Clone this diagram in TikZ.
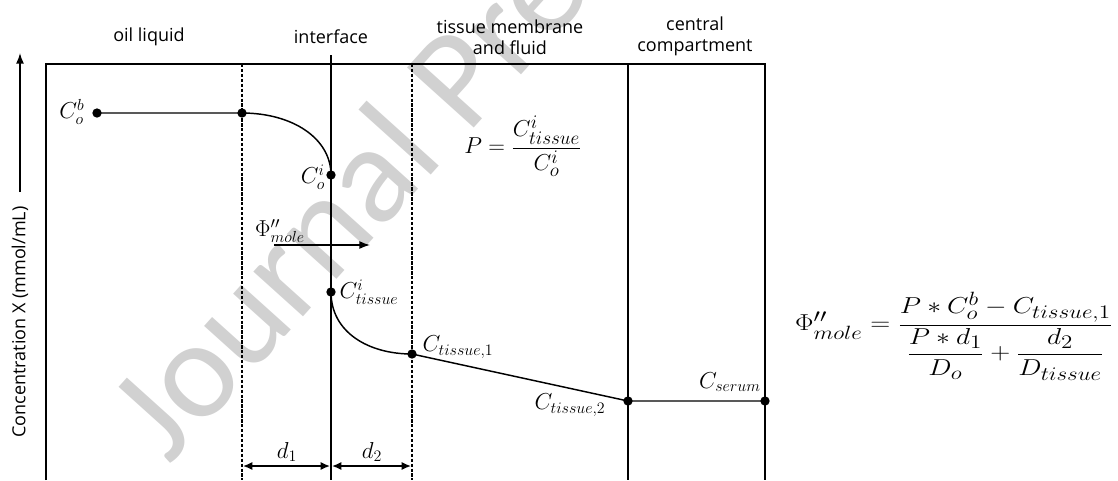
\documentclass[tikz,border=0pt]{standalone}
\usepackage{amsmath}
\usepackage{graphicx}
\usepackage[no-math]{fontspec}
\setmainfont{Open Sans}
\newfontfamily\wmfont{Carlito}
\usetikzlibrary{arrows.meta}
\begin{document}
\begin{tikzpicture}[x=0.75pt,y=-0.75pt,
  dotn/.style={circle,fill=black,inner sep=0pt,minimum size=7pt},
  boxln/.style={line width=2.2pt,line join=miter},
  ln/.style={line width=1.1pt},
  dashln/.style={line width=0.8pt,dash pattern=on 2.5pt off 1.2pt},
  hdr/.style={font=\fontsize{13.5}{15.5}\selectfont,align=center,inner sep=0pt},
  lbl/.style={font=\fontsize{16.5}{18}\selectfont,inner sep=0pt},
  eqn/.style={font=\fontsize{19}{22}\selectfont,inner sep=0pt},
  arr/.style={ln,-{Latex[length=8pt,width=6pt]}},
  dimarr/.style={ln,{Latex[length=7pt,width=6pt]}-{Latex[length=7pt,width=6pt]}},
]
\useasboundingbox (0,0) rectangle (1118,480);
% watermark
\node[rotate=48,text=black!18,font=\wmfont\fontsize{105}{105}\selectfont,anchor=center,inner sep=0pt] (wm) at (472,74) {Journal Pre-proof};
% headers
\node[hdr] (h1) at (149,37) {oil liquid};
\node[hdr] (h2) at (331,37) {interface};
\node[hdr] (h3) at (510,37) {tissue membrane\\and fluid};
\node[hdr] (h4) at (695,36) {central\\compartment};
% y axis label
\node[hdr,rotate=90] (ylab) at (20,322) {Concentration X (mmol/mL)};
\coordinate (ya) at (20,192);
\coordinate (yb) at (20,53);
\draw[arr] (ya) -- (yb);
% frame
\coordinate (bl) at (46,480);
\coordinate (tl) at (46,64);
\coordinate (tr) at (765,64);
\coordinate (br) at (765,480);
\draw[boxln] (bl) -- (tl) -- (tr) -- (br);
% verticals
\coordinate (d1t) at (242,64); \coordinate (d1b) at (242,480);
\coordinate (d2t) at (412,64); \coordinate (d2b) at (412,480);
\coordinate (it) at (331,55);  \coordinate (ib) at (331,480);
\coordinate (ct) at (628,64);  \coordinate (cb) at (628,480);
\draw[dashln] (d1t) -- (d1b);
\draw[dashln] (d2t) -- (d2b);
\draw[ln] (it) -- (ib);
\draw[ln] (ct) -- (cb);
% profile points
\coordinate (pcob) at (97,113);
\coordinate (pk) at (242,113);
\coordinate (pcoi) at (331,175);
\coordinate (pcti) at (331,292);
\coordinate (pct1) at (412,354);
\coordinate (pct2) at (628,401);
\coordinate (pcs) at (765,401);
\draw[ln] (pcob) -- (pk) .. controls (292,113) and (331,138) .. (pcoi);
\draw[ln] (pcti) .. controls (331,332) and (368,354) .. (pct1) -- (pct2) -- (pcs);
\foreach \p in {pcob,pk,pcoi,pcti,pct1,pct2,pcs} \node[dotn] (dot-\p) at (\p) {};
% labels
\node[lbl] (lcob) at (72,112) {$C_o^b$};
\node[lbl] (lcoi) at (313,177) {$C_o^i$};
\node[lbl] (lcti) at (369,292) {$C_{tissue}^i$};
\node[lbl] (lct1) at (458,347) {$C_{tissue,1}$};
\node[lbl] (lct2) at (570,405) {$C_{tissue,2}$};
\node[lbl] (lcs) at (730,382) {$C_{serum}$};
\node[lbl] (lphi) at (280,231) {$\Phi''_{mole}$};
\coordinate (pa) at (274,245);
\coordinate (pb) at (370,245);
\draw[arr] (pa) -- (pb);
% dimensions
\node[lbl] (ld1) at (287,452) {$d_1$};
\node[lbl] (ld2) at (372,452) {$d_2$};
\coordinate (da) at (243,466); \coordinate (db) at (330,466);
\coordinate (dc) at (332,466); \coordinate (dd) at (411,466);
\draw[dimarr] (da) -- (db);
\draw[dimarr] (dc) -- (dd);
% equations
\node[eqn] (peq) at (523,146) {$P=\dfrac{C^i_{tissue}}{C^i_o}$};
\node[eqn] (feq) at (954,336) {\scalebox{1.2}[1]{$\Phi''_{mole}=\dfrac{P*C_o^b-C_{tissue,1}}{\dfrac{P*d_1}{D_o}+\dfrac{d_2}{D_{tissue}}}$}};
\end{tikzpicture}
\end{document}
